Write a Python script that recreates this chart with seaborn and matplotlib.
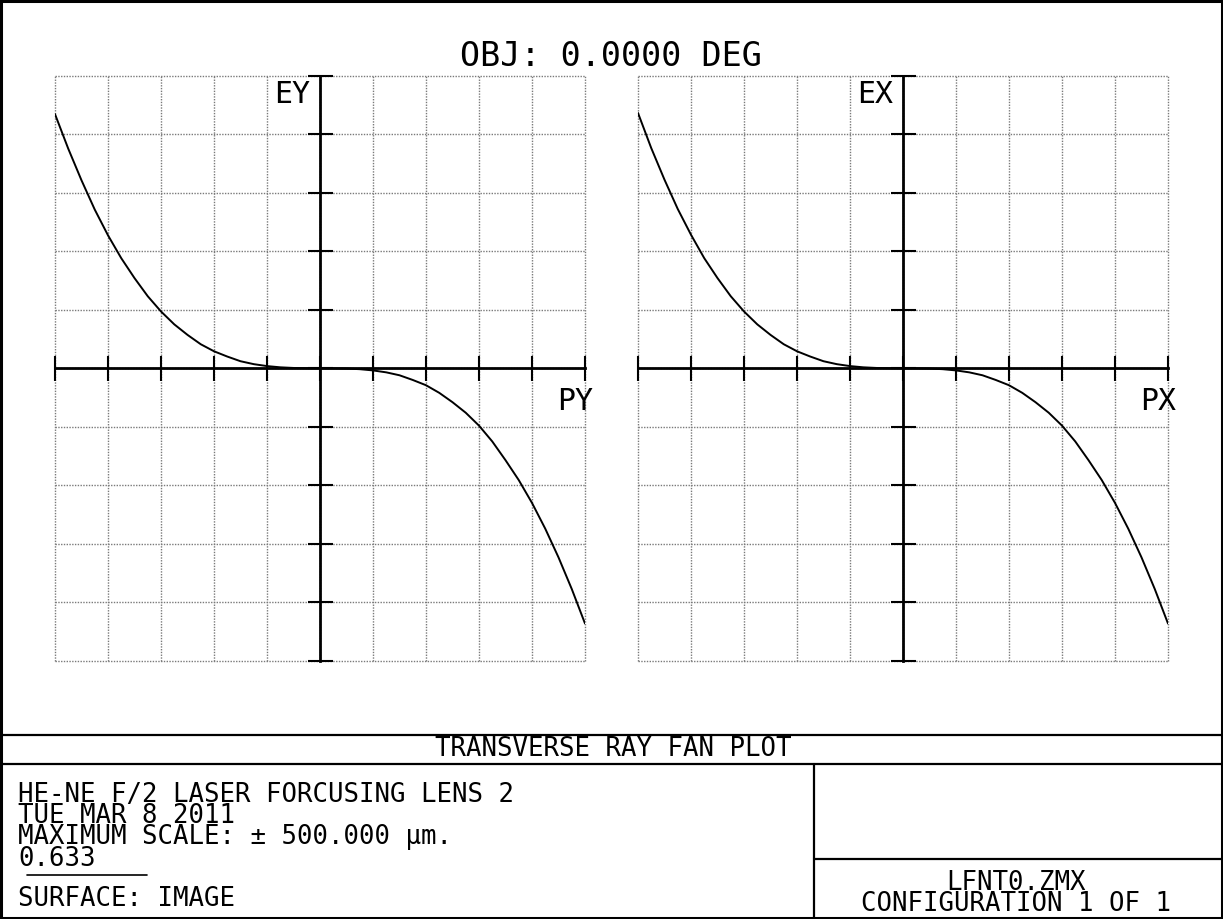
import matplotlib
matplotlib.use("Agg")
import matplotlib.pyplot as plt
from matplotlib.lines import Line2D
from matplotlib.patches import Rectangle
import seaborn as sns
import pandas as pd

# ---------------- data ----------------
pupil = [-1.00, -0.95, -0.90, -0.85, -0.80, -0.75, -0.70, -0.65, -0.60, -0.55,
         -0.50, -0.45, -0.40, -0.35, -0.30, -0.25, -0.20, -0.15, -0.10, -0.05,
         0.00, 0.05, 0.10, 0.15, 0.20, 0.25, 0.30, 0.35, 0.40, 0.45, 0.50,
         0.55, 0.60, 0.65, 0.70, 0.75, 0.80, 0.85, 0.90, 0.95, 1.00]
# tangential fan EY (µm)
ey = [434, 375, 321, 271, 227, 188, 154, 123, 97, 75,
      57, 41, 29, 20, 12, 7, 3.7, 1.6, 0.5, 0.1,
      0.0, -0.1, -0.5, -1.6, -3.7, -7, -12, -20, -29, -42, -58,
      -76, -98, -125, -157, -191, -230, -274, -323, -377, -436]
# sagittal fan EX (µm)
ex = [436, 376, 322, 272, 228, 188, 154, 123, 97, 75,
      57, 41, 29, 20, 12, 7, 3.7, 1.6, 0.5, 0.1,
      0.0, -0.1, -0.5, -1.6, -3.7, -7, -12, -20, -29, -42, -58,
      -76, -98, -125, -157, -191, -230, -274, -323, -377, -436]

max_scale = 500.0
grid_x = [-1.0, -0.8, -0.6, -0.4, -0.2, 0.0, 0.2, 0.4, 0.6, 0.8, 1.0]
grid_y = [-500, -400, -300, -200, -100, 0, 100, 200, 300, 400, 500]

title_text = "OBJ: 0.0000 DEG"
plot_name = "TRANSVERSE RAY FAN PLOT"
info_lines = ["HE-NE F/2 LASER FORCUSING LENS 2",
              "TUE MAR 8 2011",
              "MAXIMUM SCALE: \u00b1 500.000 \u00b5m.",
              "0.633"]
surface_text = "SURFACE: IMAGE"
file_lines = ["LFNT0.ZMX", "CONFIGURATION 1 OF 1"]

# ---------------- style ----------------
sns.set_style("white")
plt.rcParams["font.family"] = ["DejaVu Sans Mono", "DejaVu Sans"]

W, H = 1223, 919
fig = plt.figure(figsize=(W / 100, H / 100), dpi=100)


def fx(px):
    return px / W


def fy(py):
    return 1 - py / H


panels = [
    (55, "EY", "PY", ey),
    (638, "EX", "PX", ex),
]

for left_px, ylab, xlab, vals in panels:
    ax = fig.add_axes([fx(left_px), fy(661), 530 / W, 585.5 / H])
    df = pd.DataFrame({"p": pupil, "e": vals})
    sns.lineplot(data=df, x="p", y="e", ax=ax, color="black", lw=1.4,
                 sort=False, zorder=5)
    ax.set_xlim(-1, 1)
    ax.set_ylim(-max_scale, max_scale)
    ax.set_xticks(grid_x)
    ax.set_yticks(grid_y)
    ax.set_xticklabels([])
    ax.set_yticklabels([])
    ax.set_xlabel("")
    ax.set_ylabel("")
    ax.grid(True, color="#7a7a7a", lw=1.0, linestyle=(0, (1, 1)), clip_on=False)
    ax.set_axisbelow(True)
    for s in ("top", "right"):
        ax.spines[s].set_visible(False)
    ax.spines["left"].set_position(("data", 0))
    ax.spines["bottom"].set_position(("data", 0))
    for s in ("left", "bottom"):
        ax.spines[s].set_linewidth(2.0)
        ax.spines[s].set_color("black")
        ax.spines[s].set_zorder(4)
    ax.tick_params(axis="both", which="major", direction="inout",
                   length=18, width=1.5, color="black",
                   bottom=True, left=True, top=False, right=False)
    ax.patch.set_alpha(0)
    ax.text(0.481, 0.992, ylab, transform=ax.transAxes, ha="right",
            va="top", fontsize=21.5, color="black")
    ax.text(1.015, 0.468, xlab, transform=ax.transAxes, ha="right",
            va="top", fontsize=21.5, color="black")

# title
fig.text(fx(611), fy(57), title_text, ha="center", va="center",
         fontsize=24, color="black")

# outer border
fig.add_artist(Rectangle((0.001, 0.001), 0.998, 0.998, transform=fig.transFigure,
                         fill=False, lw=2.2, ec="black"))

# bottom info block lines
lw_box = 1.6
fig.add_artist(Line2D([0, 1], [fy(735), fy(735)], transform=fig.transFigure,
                      color="black", lw=lw_box))
fig.add_artist(Line2D([0, 1], [fy(764.3), fy(764.3)], transform=fig.transFigure,
                      color="black", lw=lw_box))
fig.add_artist(Line2D([fx(813.6), fx(813.6)], [fy(764.3), 0], transform=fig.transFigure,
                      color="black", lw=lw_box))
fig.add_artist(Line2D([fx(813.6), 1], [fy(859.3), fy(859.3)], transform=fig.transFigure,
                      color="black", lw=lw_box))
fig.add_artist(Line2D([fx(27), fx(147)], [fy(875), fy(875)], transform=fig.transFigure,
                      color="black", lw=1.2))

fs_small = 18.5
fig.text(fx(613), fy(749.5), plot_name, ha="center", va="center",
         fontsize=fs_small, color="black")
fig.text(fx(18), fy(782), "\n".join(info_lines), ha="left", va="top",
         fontsize=fs_small, color="black", linespacing=0.76)
fig.text(fx(18), fy(899), surface_text, ha="left", va="center",
         fontsize=fs_small, color="black")
fig.text(fx(1016), fy(870), "\n".join(file_lines), ha="center", va="top",
         multialignment="center", fontsize=fs_small, color="black",
         linespacing=0.76)

fig.savefig("out.png", dpi=100, facecolor="white")
